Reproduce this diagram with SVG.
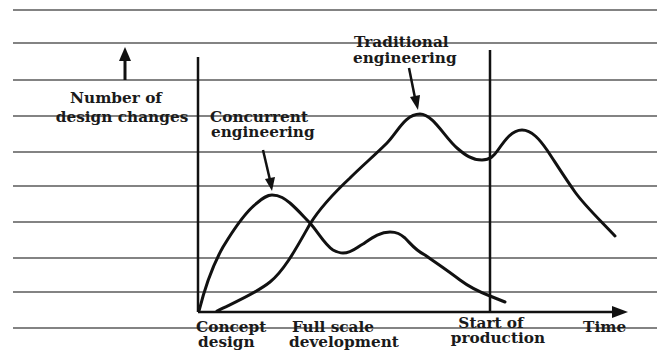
<svg xmlns="http://www.w3.org/2000/svg" width="657" height="353" viewBox="0 0 657 353">
<defs>
<style>
.grid{stroke:#5a5a5a;stroke-width:1.5;fill:none}
.axis{stroke:#111;stroke-width:2.5;fill:none}
.curve{stroke:#111;stroke-width:3;fill:none;stroke-linecap:round;stroke-linejoin:round}
.ptr{stroke:#111;stroke-width:2.5;fill:none}
.head{fill:#111}
text{font-family:"DejaVu Serif","Liberation Serif",serif;font-weight:bold;font-size:15.3px;fill:#1a1a1a}
</style>
</defs>
<rect width="657" height="353" fill="#fff"/>
<g id="grid">
<line class="grid" x1="13" y1="10" x2="657" y2="10"/>
<line class="grid" x1="13" y1="43" x2="657" y2="43"/>
<line class="grid" x1="13" y1="80" x2="657" y2="80"/>
<line class="grid" x1="13" y1="116" x2="657" y2="116"/>
<line class="grid" x1="13" y1="152" x2="657" y2="152"/>
<line class="grid" x1="13" y1="186" x2="657" y2="186"/>
<line class="grid" x1="13" y1="222" x2="657" y2="222"/>
<line class="grid" x1="13" y1="258" x2="657" y2="258"/>
<line class="grid" x1="13" y1="292" x2="657" y2="292"/>
<line class="grid" x1="13" y1="328" x2="657" y2="328"/>
</g>
<g id="axes">
<line class="axis" x1="198" y1="57" x2="198" y2="312"/>
<line class="axis" x1="198" y1="312" x2="614" y2="312"/>
<path class="head" d="M612,306 L628,312 L612,318 z"/>
<line class="axis" x1="490" y1="50" x2="490" y2="312"/>
<line x1="125" y1="80" x2="125" y2="58" stroke="#111" stroke-width="3"/>
<path class="head" d="M119,61 L125,47 L131,61 z"/>
</g>
<g id="curves">
<path id="concurrent-curve" class="curve" d="M199,311 C203,295 210,270 223,247 C232,232 245,212 257,203 C263,198 267,195 272,195 C280,195 285,199 290,203 C298,210 304,217 310,223 C318,232 325,245 333,250 C337,252 340,253 343,253 C352,253 357,247 363,244 C372,238 380,232 390,232 C397,232 400,234 405,238 C412,245 415,250 425,255 C435,262 450,272 460,280 C468,286 477,291 490,296 L505,302"/>
<path id="traditional-curve" class="curve" d="M217,311 C235,302 255,294 270,282 C285,270 298,245 310,224 C320,208 335,192 350,178 C362,166 375,155 387,143 C397,133 405,114 420,114 C433,114 445,138 457,148 C465,155 472,160 482,160 C490,160 494,156 498,150 C505,140 512,130 522,130 C532,130 540,140 547,150 C555,162 565,178 575,192 C585,206 600,220 615,236"/>
</g>
<g id="connectors">
<line class="ptr" x1="263" y1="150" x2="270" y2="180"/>
<path class="head" d="M265,179 L272,191 L275,177 z"/>
<line class="ptr" x1="409" y1="68" x2="415" y2="98"/>
<path class="head" d="M410,97 L418,110 L420,95 z"/>
</g>
<g id="label-y">
<text x="116" y="103" text-anchor="middle">Number of</text>
<text x="122" y="122" text-anchor="middle">design changes</text>
</g>
<g id="label-concurrent">
<text x="210" y="122">Concurrent</text>
<text x="211" y="137">engineering</text>
</g>
<g id="label-traditional">
<text x="354" y="47">Traditional</text>
<text x="353" y="63">engineering</text>
</g>
<g id="label-concept">
<text x="196" y="332">Concept</text>
<text x="198" y="347">design</text>
</g>
<g id="label-full">
<text x="292" y="332">Full scale</text>
<text x="289" y="347">development</text>
</g>
<g id="label-start">
<text x="491" y="328" text-anchor="middle">Start of</text>
<text x="498" y="343" text-anchor="middle">production</text>
</g>
<g id="label-time">
<text x="583" y="332">Time</text>
</g>
</svg>
